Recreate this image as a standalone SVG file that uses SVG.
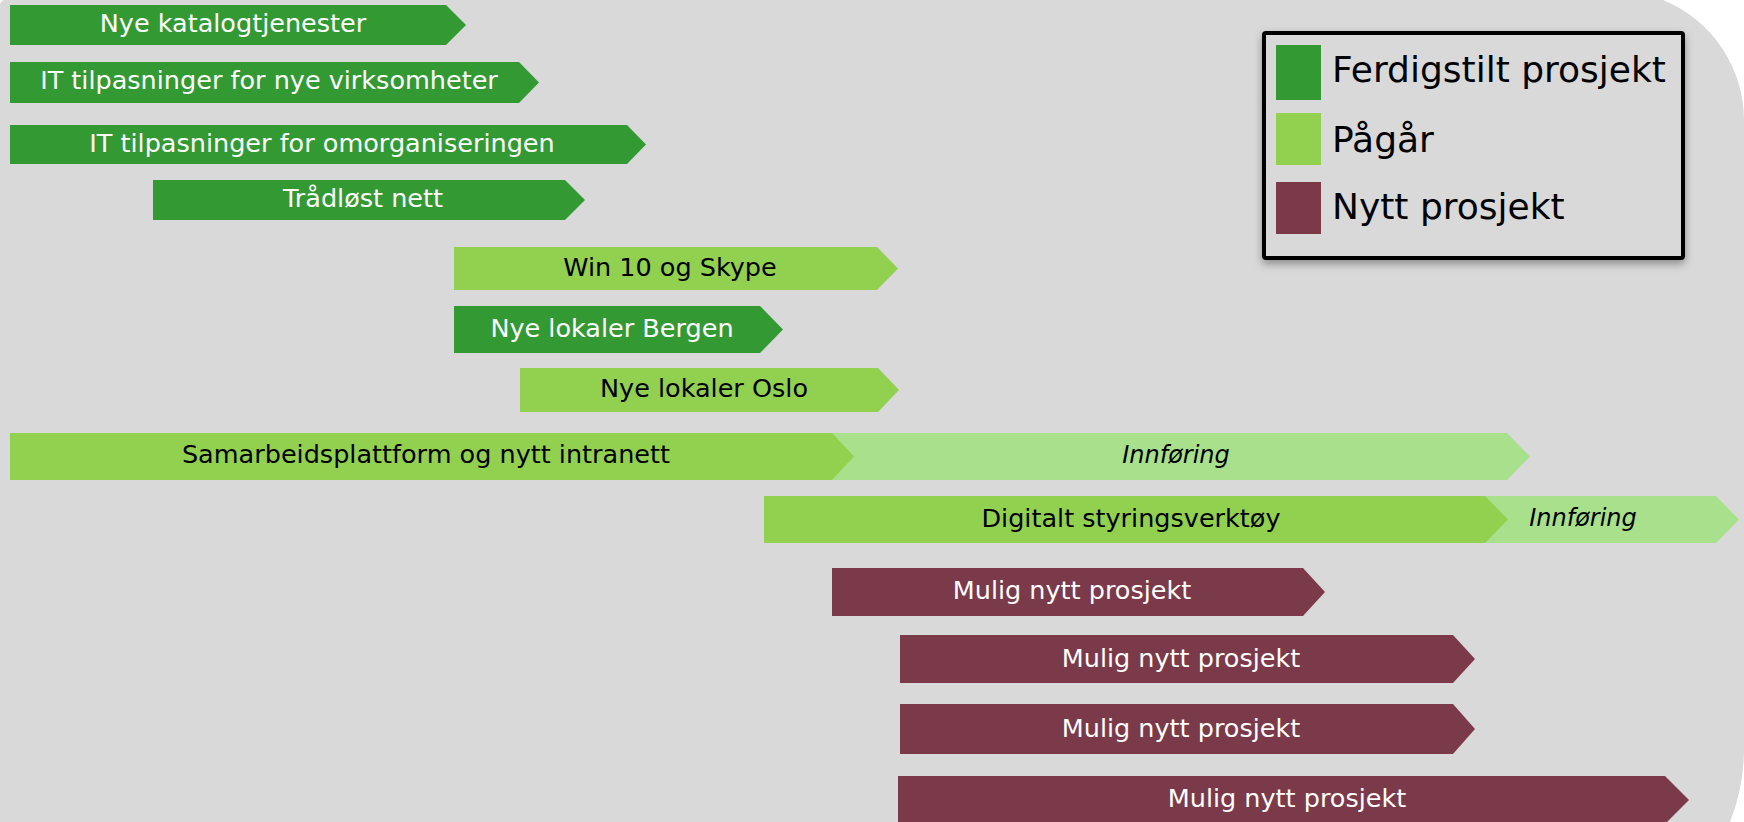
<svg xmlns="http://www.w3.org/2000/svg" width="1744" height="822" viewBox="0 0 1744 822">
  <style>
    .done { fill: #339933; }
    .active { fill: #92d050; }
    .rollout { fill: #a9e08b; }
    .new { fill: #7b3a4a; }
    text { font-family: "DejaVu Sans", "Liberation Sans", sans-serif; font-size: 25.5px; text-anchor: middle; }
    .lt { fill: #ffffff; }
    .dk { fill: #000000; }
    .it { font-style: italic; font-size: 24px; fill: #000000; }
    .legend-text { font-size: 36px; text-anchor: start; fill: #000000; }
  </style>
  <defs>
    <filter id="legendShadow" x="-10%" y="-10%" width="120%" height="130%">
      <feDropShadow dx="0" dy="4" stdDeviation="4" flood-color="#000000" flood-opacity="0.35"/>
    </filter>
  </defs>

  <!-- page background -->
  <rect x="0" y="0" width="1744" height="822" fill="#ffffff"/>
  <path d="M0,5 A5,5 0 0 1 5,0 L1663,0 A130,130 0 0 1 1744,120 L1744,748 A200,200 0 0 1 1730,822 L0,822 Z" fill="#d9d9d9"/>

  <!-- timeline bars -->
  <g id="bar-katalog">
    <polygon class="done" points="10,5 446,5 466,25 446,45 10,45"/>
    <text class="lt" x="233" y="32">Nye katalogtjenester</text>
  </g>
  <g id="bar-virksomheter">
    <polygon class="done" points="10,62 519,62 539,82.5 519,103 10,103"/>
    <text class="lt" x="269" y="89">IT tilpasninger for nye virksomheter</text>
  </g>
  <g id="bar-omorganisering">
    <polygon class="done" points="10,125 627,125 646,144.5 627,164 10,164"/>
    <text class="lt" x="322" y="152">IT tilpasninger for omorganiseringen</text>
  </g>
  <g id="bar-tradlost">
    <polygon class="done" points="153,180 565,180 585,200 565,220 153,220"/>
    <text class="lt" x="363" y="207">Trådløst nett</text>
  </g>
  <g id="bar-win10">
    <polygon class="active" points="454,247 877,247 898,268.5 877,290 454,290"/>
    <text class="dk" x="670" y="276">Win 10 og Skype</text>
  </g>
  <g id="bar-bergen">
    <polygon class="done" points="454,306 760,306 783,329.5 760,353 454,353"/>
    <text class="lt" x="612" y="337">Nye lokaler Bergen</text>
  </g>
  <g id="bar-oslo">
    <polygon class="active" points="520,368 878,368 899,390 878,412 520,412"/>
    <text class="dk" x="704" y="397">Nye lokaler Oslo</text>
  </g>
  <g id="bar-samarbeid">
    <polygon class="rollout" points="832,433 1507,433 1530,456.5 1507,480 832,480"/>
    <polygon class="active" points="10,433 832,433 854,456.5 832,480 10,480"/>
    <text class="dk" x="426" y="463">Samarbeidsplattform og nytt intranett</text>
    <text class="it" x="1176" y="463">Innføring</text>
  </g>
  <g id="bar-styring">
    <polygon class="rollout" points="1485,496 1716,496 1739,519.5 1716,543 1485,543"/>
    <polygon class="active" points="764,496 1485,496 1508,519.5 1485,543 764,543"/>
    <text class="dk" x="1131" y="527">Digitalt styringsverktøy</text>
    <text class="it" x="1583" y="526">Innføring</text>
  </g>
  <g id="bar-mulig-1">
    <polygon class="new" points="832,568 1303,568 1325,592 1303,616 832,616"/>
    <text class="lt" x="1072" y="599">Mulig nytt prosjekt</text>
  </g>
  <g id="bar-mulig-2">
    <polygon class="new" points="900,635 1453,635 1475,659 1453,683 900,683"/>
    <text class="lt" x="1181" y="667">Mulig nytt prosjekt</text>
  </g>
  <g id="bar-mulig-3">
    <polygon class="new" points="900,704 1453,704 1475,729 1453,754 900,754"/>
    <text class="lt" x="1181" y="737">Mulig nytt prosjekt</text>
  </g>
  <g id="bar-mulig-4">
    <polygon class="new" points="898,776 1665,776 1689,800 1665,824 898,824"/>
    <text class="lt" x="1287" y="807">Mulig nytt prosjekt</text>
  </g>

  <!-- legend -->
  <g id="legend">
    <rect x="1264" y="33" width="419" height="225" rx="2" fill="#d9d9d9" stroke="#000000" stroke-width="4" filter="url(#legendShadow)"/>
    <rect class="done" x="1276" y="45" width="45" height="55"/>
    <rect class="active" x="1276" y="113" width="45" height="52"/>
    <rect class="new" x="1276" y="182" width="45" height="52"/>
    <text class="legend-text" x="1332" y="82">Ferdigstilt prosjekt</text>
    <text class="legend-text" x="1332" y="152">Pågår</text>
    <text class="legend-text" x="1332" y="219">Nytt prosjekt</text>
  </g>
</svg>
